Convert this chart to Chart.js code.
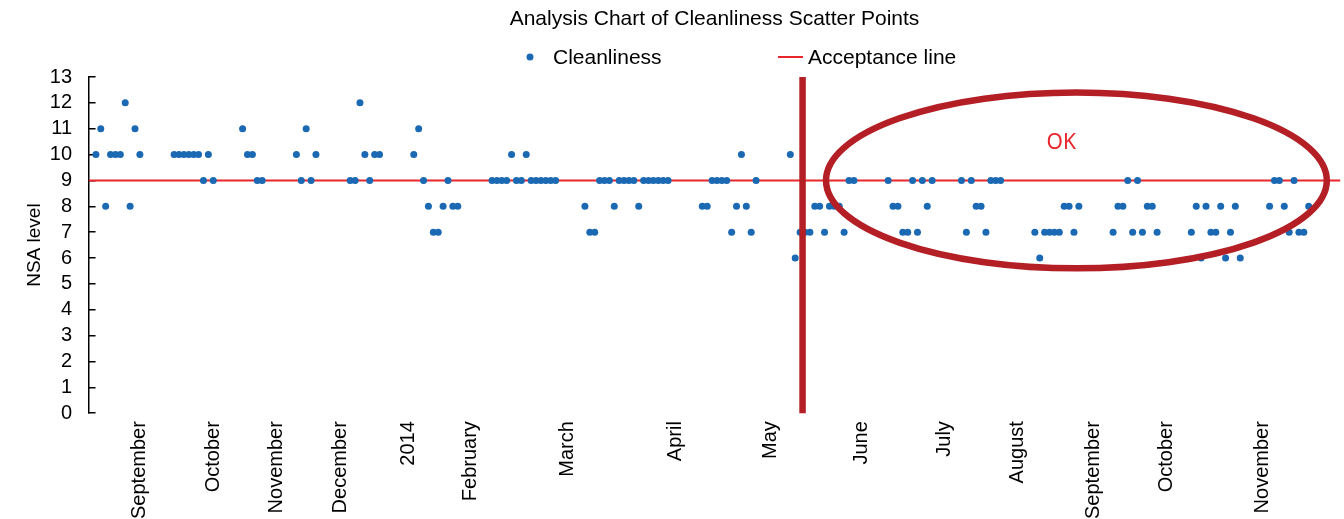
<!DOCTYPE html>
<html>
<head>
<meta charset="utf-8">
<style>
  html, body { margin: 0; padding: 0; background: #fff; overflow: hidden; height: 519px; }
  #wrap { width: 1344px; height: 527px; }
</style>
<script src="https://cdn.jsdelivr.net/npm/chart.js@4.4.1/dist/chart.umd.min.js"></script>
</head>
<body>
<div id="wrap"><canvas id="chart"></canvas></div>
<script>
// NSA level per sample slot (null = no sample in that slot)
const cleanliness = [
  null,
  10, 11, 8, 10, 10, 10, 12, 8, 11, 10,
  null, null, null, null, null, null,
  10, 10, 10, 10, 10, 10, 9, 10, 9,
  null, null, null, null, null,
  11, 10, 10, 9, 9,
  null, null, null, null, null, null,
  10, 9, 11, 9, 10,
  null, null, null, null, null, null,
  9, 9, 12, 10, 9, 10, 10,
  null, null, null, null, null, null,
  10, 11, 9, 8, 7, 7, 8, 9, 8, 8,
  null, null, null, null, null, null,
  9, 9, 9, 9, 10, 9, 9, 10, 9, 9, 9, 9, 9, 9,
  null, null, null, null, null,
  8, 7, 7, 9, 9, 9, 8, 9, 9, 9, 9, 8, 9, 9, 9, 9, 9, 9,
  null, null, null, null, null, null,
  8, 8, 9, 9, 9, 9, 7, 8, 10, 8, 7, 9,
  null, null, null, null, null, null,
  10, 6, 7, 7, 7, 8, 8, 7, 8, 8, 8, 7, 9, 9,
  null, null, null, null, null, null,
  9, 8, 8, 7, 7, 9, 7, 9, 8, 9,
  null, null, null, null, null,
  9, 7, 9, 8, 8, 7, 9, 9, 9,
  null, null, null, null, null, null,
  7, 6, 7, 7, 7, 7, 8, 8, 7, 8,
  null, null, null, null, null, null,
  7, 8, 8, 9, 7, 9, 7, 8, 8, 7,
  null, null, null, null, null, null,
  7, 8, 6, 8, 7, 7, 8, 6, 7, 8, 6,
  null, null, null, null, null,
  8, 9, 9, 8, 7, 9, 7, 7, 8,
  null, null, null, null, null, null
];

const acceptanceLevel = 9;

// month labels and the sample slot where each one sits
const monthNames = ["September", "October", "November", "December", "2014", "February", "March",
  "April", "May", "June", "July", "August", "September", "October", "November"];
const monthSlots = [10, 25, 38, 51, 65, 77.5, 97.5, 119.5, 139, 157.5, 174.5, 189.5, 205, 220, 239.5];

// annotations (in data units)
const cutoverSlot = 145.5;
const okZone = { slot: 201.5, level: 9, slotRadius: 51.2, levelRadius: 3.4 };
const okLabel = { slot: 198.4, level: 10.45, text: "OK" };

const blue = "#1b68b3";
const red = "#e8262b";
const darkRed = "#b41f25";

Chart.defaults.font.family = "'Liberation Sans', Arial, sans-serif";
Chart.defaults.color = "#000";

const slotMin = -0.5;
const slotMax = cleanliness.length - 0.5;

// legend row drawn under the title
const legendRow = {
  id: "legendRow",
  afterDraw(chart) {
    const ctx = chart.ctx;
    const cx = chart.width / 2;
    const y = 57;
    ctx.save();
    ctx.font = "21px 'Liberation Sans', Arial, sans-serif";
    ctx.textBaseline = "middle";
    ctx.beginPath();
    ctx.arc(cx - 142, y, 3.5, 0, Math.PI * 2);
    ctx.fillStyle = blue;
    ctx.fill();
    ctx.fillStyle = "#000";
    ctx.fillText(chart.data.datasets[0].label, cx - 119, y + 1);
    ctx.strokeStyle = red;
    ctx.lineWidth = 2;
    ctx.beginPath();
    ctx.moveTo(cx + 106, y);
    ctx.lineTo(cx + 131, y);
    ctx.stroke();
    ctx.fillText(chart.data.datasets[1].label, cx + 136, y + 1);
    ctx.restore();
  }
};

// vertical cutover line, ellipse and OK mark
const marks = {
  id: "marks",
  afterDatasetsDraw(chart) {
    const { ctx, chartArea, scales: { x, y } } = chart;
    ctx.save();
    ctx.strokeStyle = darkRed;
    ctx.lineWidth = 6.5;
    const vx = x.getPixelForValue(cutoverSlot);
    ctx.beginPath();
    ctx.moveTo(vx, chartArea.top);
    ctx.lineTo(vx, chartArea.bottom);
    ctx.stroke();

    const ex = x.getPixelForValue(okZone.slot);
    const ey = y.getPixelForValue(okZone.level);
    const rx = x.getPixelForValue(okZone.slot + okZone.slotRadius) - ex;
    const ry = ey - y.getPixelForValue(okZone.level + okZone.levelRadius);
    ctx.beginPath();
    ctx.ellipse(ex, ey, rx, ry, 0, 0, Math.PI * 2);
    ctx.stroke();

    ctx.fillStyle = red;
    ctx.font = "21px 'Noto Sans', 'Liberation Sans', sans-serif";
    ctx.textAlign = "center";
    ctx.textBaseline = "middle";
    ctx.fillText(okLabel.text, x.getPixelForValue(okLabel.slot), y.getPixelForValue(okLabel.level));
    ctx.restore();
  }
};

new Chart(document.getElementById("chart"), {
  type: "scatter",
  data: {
    datasets: [
      {
        label: "Cleanliness",
        data: cleanliness.map((v, i) => ({ x: i, y: v })),
        backgroundColor: blue,
        borderColor: blue,
        pointRadius: 3.5,
        pointHoverRadius: 3.5,
        borderWidth: 0,
      },
      {
        label: "Acceptance line",
        type: "line",
        data: [{ x: slotMin, y: acceptanceLevel }, { x: slotMax, y: acceptanceLevel }],
        borderColor: red,
        borderWidth: 2,
        pointRadius: 0,
        fill: false,
      },
    ],
  },
  options: {
    responsive: true,
    maintainAspectRatio: false,
    animation: false,
    layout: { padding: { left: 19, right: 3, top: 0, bottom: 0 } },
    plugins: {
      legend: { display: false },
      tooltip: { enabled: false },
      title: {
        display: true,
        fullSize: false,
        text: "Analysis Chart of Cleanliness Scatter Points",
        font: { size: 21, weight: "normal" },
        color: "#000",
        padding: { top: 6.4, bottom: 45.4 },
      },
    },
    scales: {
      x: {
        type: "linear",
        min: slotMin,
        max: slotMax,
        afterBuildTicks: (axis) => {
          axis.ticks = monthSlots.map((v) => ({ value: v }));
        },
        ticks: {
          autoSkip: false,
          maxRotation: 90,
          minRotation: 90,
          padding: 8,
          font: { size: 20 },
          color: "#000",
          callback: (value, index) => monthNames[index],
        },
        grid: { display: false, drawTicks: false },
        border: { display: false },
      },
      y: {
        min: 0,
        max: 13,
        ticks: { stepSize: 1, autoSkip: false, padding: 23.5, font: { size: 20 }, color: "#000" },
        grid: { drawOnChartArea: false, drawTicks: true, tickLength: -7, color: "#000", lineWidth: 1.5 },
        border: { display: true, color: "#000", width: 1.5 },
        title: { display: true, text: "NSA level", font: { size: 19 }, color: "#000", padding: { top: 4, bottom: -19.5 } },
      },
    },
  },
  plugins: [legendRow, marks],
});
</script>
</body>
</html>
